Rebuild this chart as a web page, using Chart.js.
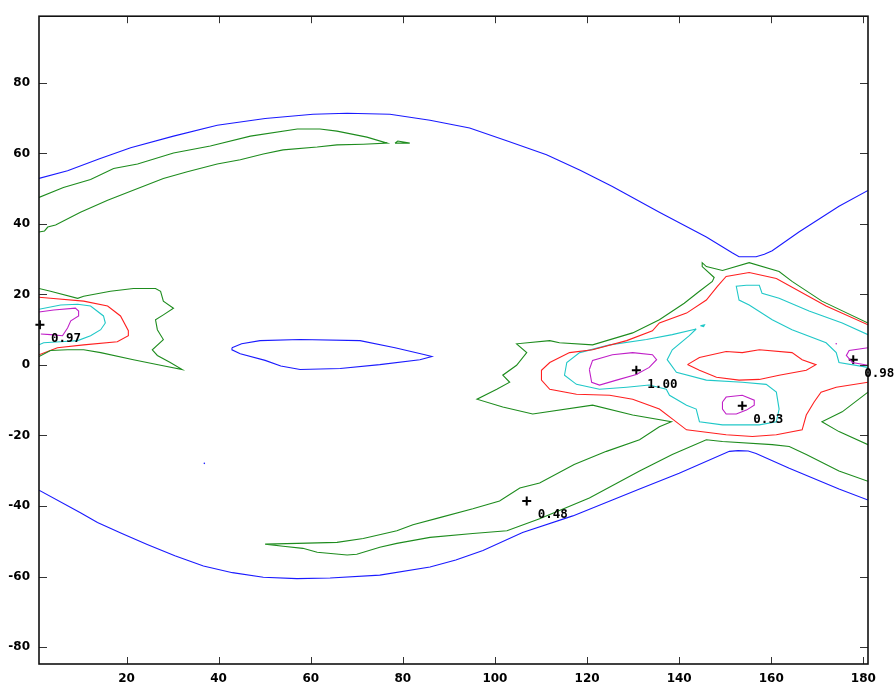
<!DOCTYPE html>
<html>
<head>
<meta charset="utf-8">
<script src="https://cdn.jsdelivr.net/npm/chart.js@4.4.1/dist/chart.umd.min.js"></script>
<style>
  html, body { margin: 0; padding: 0; background: #fff; }
  #wrap { width: 896px; height: 688px; }
</style>
</head>
<body>
<div id="wrap"><canvas id="chart" width="896" height="688"></canvas></div>
<script>
// axis ticks
const xTicks = [20, 40, 60, 80, 100, 120, 140, 160, 180];
const yTicks = [-80, -60, -40, -20, 0, 20, 40, 60, 80];

// contour lines, [x, y]
const blueTop = [[1,52.9],[7.2,55.1],[14,58.4],[20.9,61.6],[30.2,64.9],[39.7,68.0],[50.1,69.9],[60.5,71.1],[67.9,71.4],[77.2,71.1],[85.9,69.4],[94.5,67.2],[102.7,63.5],[111.2,59.6],[118.5,55.2],[125.5,50.6],[135.7,43.3],[145.9,36.3],[151.5,31.8],[153.0,30.7],[156.7,30.7],[158.5,31.4],[160.2,32.4],[166.0,37.7],[174.7,45.0],[181,49.5]];
const blueBottom = [[1,-35.5],[10.0,-41.9],[13.7,-44.7],[19,-47.8],[24.5,-50.9],[30.5,-54.1],[36.7,-57.0],[43,-58.9],[49.7,-60.2],[57,-60.6],[64.2,-60.4],[75.0,-59.6],[85.9,-57.3],[91.5,-55.3],[97.4,-52.6],[106.0,-47.5],[116.9,-42.8],[131.4,-35.2],[140.0,-30.7],[150.9,-24.5],[152.8,-24.3],[155,-24.4],[156.7,-25.1],[163.9,-29.3],[174.7,-35.2],[181,-38.3]];
const blueIsland = [[42.9,4.9],[45,6.0],[49.0,6.9],[57.7,7.2],[70.7,6.9],[78.3,4.9],[84.8,2.9],[86.3,2.4],[83.7,1.5],[75.0,0.1],[66.4,-1.0],[57.7,-1.3],[53.5,-0.3],[50.1,1.3],[44.7,3.2],[42.9,4.3],[42.9,4.9]];
const blueDot = [[36.9,-27.9]];

const greenUpper = [[1,47.5],[6.3,50.3],[12.2,52.6],[17.2,55.7],[22.4,57.0],[30.2,60.1],[38.2,62.1],[46.9,64.9],[57.1,66.9],[62.0,66.9],[65.7,66.3],[72.2,64.6],[76.6,62.9],[71.4,62.6],[65.7,62.4],[61.4,61.8],[54.0,61.0],[49.7,59.8],[44.7,58.2],[39.7,57.0],[33.2,54.8],[28.0,52.9],[20.2,48.9],[15.9,46.7],[10.0,43.3],[4.6,39.7],[2.9,39.1],[2.2,38.0],[1,37.7]];
const greenSpeck = [[78.3,62.9],[78.9,63.5],[81.5,62.9],[78.3,62.9]];
const greenLeft = [[1,21.7],[3.5,20.9],[9.4,18.9],[10.7,19.5],[16.5,20.9],[21.5,21.7],[26.3,21.7],[27.4,20.9],[28.0,18.1],[30.2,16.1],[28.0,14.2],[26.3,12.8],[26.7,10.0],[28.0,7.2],[25.6,4.3],[26.7,2.7],[29.5,0.7],[32.1,-1.3],[27.4,-0.1],[21.5,1.5],[14.4,3.5],[10.7,4.3],[7.2,4.3],[3.5,4.1],[1,2.4]];
const greenBig = [[181,11.9],[171.0,18.1],[164.5,23.7],[161.7,26.5],[155.2,29.0],[149.4,26.8],[145.9,27.9],[145.0,29.0],[145.0,27.9],[147.6,24.8],[147.2,23.7],[144.4,20.9],[141.1,17.5],[135.7,12.8],[129.9,9.1],[121.2,5.7],[114.0,6.3],[111.9,6.9],[104.7,6.0],[106.9,3.5],[104.7,-0.1],[101.7,-2.9],[103.2,-4.9],[100.4,-6.9],[96.1,-9.7],[101.7,-11.9],[108.2,-13.9],[121.2,-11.4],[129.9,-14.2],[138.3,-16.1],[135.7,-17.5],[131.4,-21.2],[124.2,-24.5],[117.2,-28.2],[109.7,-33.5],[105.4,-34.9],[101.0,-38.6],[95.2,-40.8],[88.0,-43.3],[82.2,-45.3],[78.7,-47.0],[71.4,-49.2],[65.7,-50.3],[57.1,-50.6],[50.1,-50.8],[54.0,-51.4],[58.3,-52.0],[61.4,-53.1],[67.9,-53.9],[70.0,-53.7],[75.0,-51.7],[78.7,-50.6],[85.9,-48.9],[95.2,-47.8],[102.6,-47.0],[109.7,-43.6],[120.5,-37.7],[131.4,-30.1],[138.5,-25.4],[145.9,-21.2],[149.4,-21.7],[160.2,-22.6],[163.9,-23.1],[167.6,-25.4],[174.7,-30.1],[181,-33.0]];
const greenRight = [[181,-7.7],[175.4,-13.3],[171.0,-16.1],[174.7,-18.9],[181,-22.6]];

const redLeft = [[1,19.2],[3.5,18.9],[10.7,18.1],[15.9,16.7],[18.7,13.9],[20.4,9.7],[20.4,8.3],[18.0,6.6],[10.7,5.7],[5.0,4.9],[1,2.9]];
const redBig = [[181,11.4],[171.9,16.7],[161.1,24.5],[155.2,26.2],[150.2,25.1],[148.3,22.3],[145.9,18.4],[141.6,14.7],[135.7,11.9],[134.2,9.7],[128.6,6.9],[121.2,4.3],[116.2,3.5],[111.9,0.7],[110.1,-1.5],[110.1,-4.3],[111.9,-6.9],[117.7,-8.3],[124.9,-8.6],[129.9,-9.7],[135.7,-12.5],[138.5,-15.3],[141.6,-18.4],[150.2,-19.8],[155.9,-20.3],[161.1,-19.8],[166.7,-18.4],[167.6,-14.2],[169.3,-10.5],[170.8,-7.7],[174.1,-6.3],[181,-4.9]];
const redIsland = [[141.8,0.1],[144.4,2.1],[150.2,3.8],[153.7,3.5],[157.4,4.3],[164.5,3.5],[166.7,1.5],[169.7,0.1],[167.6,-1.5],[161.7,-2.9],[157.4,-4.1],[153.0,-4.3],[148.1,-3.5],[144.4,-1.5],[141.8,0.1]];

const cyanLeft = [[1,15.8],[5.7,17.0],[9.4,17.2],[12.2,16.7],[15.0,13.9],[15.4,11.9],[14.4,10.0],[12.2,8.3],[9.4,6.9],[5.7,6.6],[2.0,6.3],[1,5.7]];
const cyanLoop = [[143.7,10.2],[138.5,8.6],[132.9,7.2],[124.9,5.7],[118.4,3.5],[115.6,0.7],[115.1,-2.9],[117.7,-5.5],[122.7,-6.9],[128.6,-6.3],[133.5,-5.7],[137.2,-6.9],[137.9,-8.6],[141.6,-11.4],[143.7,-12.5],[144.4,-16.1],[149.4,-17.0],[157.4,-17.0],[161.1,-16.1],[161.7,-12.5],[161.1,-7.7],[158.9,-5.5],[153.7,-4.9],[145.9,-4.3],[139.4,-2.1],[137.4,1.5],[138.5,4.3],[142.2,8.3],[143.7,10.2]];
const cyanUpper = [[181,8.6],[175.4,11.9],[168.2,15.3],[161.7,18.9],[158.0,20.3],[157.4,22.6],[154.6,22.6],[152.4,22.3],[153.0,18.4],[155.2,17.0],[160.2,12.8],[164.5,10.0],[171.9,6.3],[174.1,3.5],[174.7,0.7],[181,-0.7]];
const cyanSpeck = [[144.6,11.1],[145.5,11.4],[145.3,10.9],[144.6,11.1]];

const magentaLeft = [[1,15.0],[4.2,15.6],[8.9,16.1],[9.6,15.3],[9.6,13.9],[7.9,12.5],[7.2,10.5],[6.1,8.3],[3.5,8.6],[1.4,8.8]];
const magentaA = [[120.5,-1.3],[121.2,1.3],[125.5,2.9],[129.9,3.5],[134.2,2.9],[135.1,1.5],[133.5,-0.7],[130.7,-2.7],[126.4,-4.3],[122.7,-5.7],[121.0,-4.9],[120.5,-1.3]];
const magentaB = [[149.4,-10.5],[150.2,-9.1],[153.7,-8.6],[156.3,-10.0],[156.3,-11.4],[154.6,-12.8],[152.4,-13.9],[150.2,-13.9],[149.4,-12.5],[149.4,-10.5]];
const magentaRight = [[181,4.9],[176.9,4.1],[176.3,2.7],[177.6,0.7],[181,-0.1]];
const magentaDot = [[174.1,6.0]];

// maxima markers and their labels
const markerX = [1.2, 130.7, 153.7, 177.8, 106.9];
const markerY = [11.4, -1.5, -11.6, 1.5, -38.6];
const markerLabels = ['0.97', '1.00', '0.93', '0.98', '0.48'];

const BLUE = '#1a1aff', GREEN = '#1e8c1e', RED = '#ff2020', CYAN = '#20c8c8', MAGENTA = '#c020c8';

const toPts = arr => arr.map(p => ({ x: p[0], y: p[1] }));
const line = (arr, color) => ({
  data: toPts(arr), showLine: true, borderColor: color, borderWidth: 1.1,
  pointRadius: 0, pointHoverRadius: 0, tension: 0, fill: false
});
const dot = (arr, color) => ({
  data: toPts(arr), showLine: false, pointRadius: 0.8, backgroundColor: color, borderWidth: 0
});

const datasets = [
  line(blueTop, BLUE), line(blueBottom, BLUE), line(blueIsland, BLUE), dot(blueDot, BLUE),
  line(greenUpper, GREEN), line(greenSpeck, GREEN), line(greenLeft, GREEN), line(greenBig, GREEN), line(greenRight, GREEN),
  line(redLeft, RED), line(redBig, RED), line(redIsland, RED),
  line(cyanLeft, CYAN), line(cyanLoop, CYAN), line(cyanUpper, CYAN), line(cyanSpeck, CYAN),
  line(magentaLeft, MAGENTA), line(magentaA, MAGENTA), line(magentaB, MAGENTA), line(magentaRight, MAGENTA), dot(magentaDot, MAGENTA),
  {
    data: markerX.map((x, i) => ({ x, y: markerY[i] })), showLine: false,
    pointStyle: 'cross', pointRadius: 4.5, borderColor: '#000', borderWidth: 2, clip: false
  }
];

// frame with inward ticks on all four sides, plus the value labels
const framePlugin = {
  id: 'frame',
  afterDraw(chart) {
    const { ctx, chartArea: a, scales: { x, y } } = chart;
    ctx.save();
    ctx.strokeStyle = '#333';
    ctx.lineWidth = 1;
    ctx.beginPath();
    xTicks.forEach(v => {
      const px = Math.round(x.getPixelForValue(v)) + 0.5;
      ctx.moveTo(px, a.bottom); ctx.lineTo(px, a.bottom - 7);
      ctx.moveTo(px, a.top); ctx.lineTo(px, a.top + 7);
    });
    yTicks.forEach(v => {
      const py = Math.round(y.getPixelForValue(v)) + 0.5;
      ctx.moveTo(a.left, py); ctx.lineTo(a.left + 8, py);
      ctx.moveTo(a.right, py); ctx.lineTo(a.right - 8, py);
    });
    ctx.stroke();
    ctx.strokeStyle = '#111';
    ctx.lineWidth = 1.6;
    ctx.strokeRect(a.left, a.top, a.right - a.left, a.bottom - a.top);

    ctx.fillStyle = '#000';
    ctx.font = 'bold 12.5px "DejaVu Sans Mono"';
    ctx.textBaseline = 'middle';
    ctx.textAlign = 'left';
    markerLabels.forEach((t, i) => {
      ctx.fillText(t, x.getPixelForValue(markerX[i]) + 11, y.getPixelForValue(markerY[i]) + 14);
    });
    ctx.restore();
  }
};

const tickFont = { family: '"DejaVu Sans", sans-serif', size: 12, weight: 'bold' };

new Chart(document.getElementById('chart'), {
  type: 'scatter',
  data: { datasets },
  options: {
    responsive: false,
    animation: false,
    events: [],
    layout: { padding: { top: 10, right: 28, left: 0, bottom: 0 } },
    plugins: { legend: { display: false }, tooltip: { enabled: false } },
    scales: {
      x: {
        type: 'linear', min: 1, max: 181,
        grid: { display: false, drawTicks: false },
        border: { display: false },
        ticks: { color: '#000', font: tickFont, padding: 8 },
        afterBuildTicks: s => { s.ticks = xTicks.map(v => ({ value: v })); },
        afterFit: s => { s.height = 24; }
      },
      y: {
        type: 'linear', min: -84.8, max: 98.9,
        grid: { display: false, drawTicks: false },
        border: { display: false },
        ticks: { color: '#000', font: tickFont, padding: 9 },
        afterBuildTicks: s => { s.ticks = yTicks.map(v => ({ value: v })); },
        afterFit: s => { s.width = 39; }
      }
    }
  },
  plugins: [framePlugin]
});
</script>
</body>
</html>
